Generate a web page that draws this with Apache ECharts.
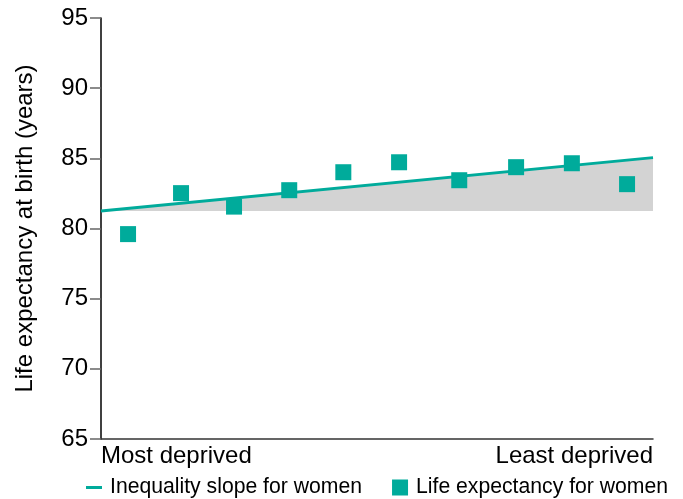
<!DOCTYPE html>
<html>
<head>
<meta charset="utf-8">
<script src="https://cdn.jsdelivr.net/npm/echarts@6/dist/echarts.min.js"></script>
<style>
html,body{margin:0;padding:0;background:#fff;}
#chart{width:683px;height:499px;}
</style>
</head>
<body>
<div id="chart"></div>
<script>
// Data (x = relative deprivation rank, 0 = most deprived, 10 = least deprived)
const rankPositions = [0.49, 1.45, 2.41, 3.41, 4.39, 5.40, 6.49, 7.52, 8.53, 9.53];
const lifeExpectancy = [79.6, 82.52, 81.56, 82.73, 84.01, 84.72, 83.44, 84.37, 84.65, 83.16];
const slopeX = [0, 10];
const slopeY = [81.25, 85.05];
const yTicks = [65, 70, 75, 80, 85, 90, 95];
const xLabels = ['Most deprived', 'Least deprived'];
const seriesNames = ['Inequality slope for women', 'Life expectancy for women'];

const teal = '#00ab9b';
const font = 'Liberation Sans, Arial, Helvetica, sans-serif';

const chart = echarts.init(document.getElementById('chart'), null, {renderer: 'canvas'});

const pointData = rankPositions.map((x, i) => [x, lifeExpectancy[i]]);
const slopeData = slopeX.map((x, i) => [x, slopeY[i]]);

chart.setOption({
  animation: false,
  backgroundColor: '#fff',
  grid: {left: 101, right: 30, top: 18, bottom: 60, containLabel: false},
  legend: {
    top: 472,
    left: 81,
    itemGap: 30,
    itemWidth: 16,
    itemHeight: 16,
    textStyle: {fontFamily: font, fontSize: 21.2, color: '#000', padding: [0, 0, 0, 3]},
    data: [
      {name: seriesNames[0], icon: 'path://M0,7 L16,7 L16,10 L0,10 Z', itemStyle: {color: teal}},
      {name: seriesNames[1], icon: 'rect', itemStyle: {color: teal}}
    ]
  },
  xAxis: {
    type: 'value',
    min: 0,
    max: 10,
    interval: 10,
    axisLine: {show: true, lineStyle: {color: '#333', width: 1.5}},
    axisTick: {show: false},
    splitLine: {show: false},
    axisLabel: {
      show: true,
      fontFamily: font,
      fontSize: 24,
      color: '#000',
      margin: 5,
      alignMinLabel: 'left',
      alignMaxLabel: 'right',
      formatter: v => v === 0 ? xLabels[0] : (v === 10 ? xLabels[1] : '')
    }
  },
  yAxis: {
    type: 'value',
    min: yTicks[0],
    max: yTicks[yTicks.length - 1],
    interval: 5,
    name: 'Life expectancy at birth (years)',
    nameLocation: 'middle',
    nameGap: 64,
    nameTextStyle: {fontFamily: font, fontSize: 24, color: '#000'},
    axisLine: {show: true, lineStyle: {color: '#000', width: 1.5}},
    axisTick: {show: true, length: 11, lineStyle: {color: '#666', width: 1.5}},
    splitLine: {show: false},
    axisLabel: {fontFamily: font, fontSize: 24, color: '#000', margin: 13}
  },
  series: [
    {
      name: 'area',
      type: 'custom',
      silent: true,
      z: 1,
      data: [0],
      renderItem: function (params, api) {
        const pts = [
          api.coord([slopeX[0], slopeY[0]]),
          api.coord([slopeX[1], slopeY[1]]),
          api.coord([slopeX[1], slopeY[0]])
        ];
        return {
          type: 'polygon',
          shape: {points: pts},
          style: {fill: '#d3d3d3'}
        };
      }
    },
    {
      name: seriesNames[0],
      type: 'line',
      data: slopeData,
      symbol: 'none',
      lineStyle: {color: teal, width: 3},
      itemStyle: {color: teal},
      z: 3
    },
    {
      name: seriesNames[1],
      type: 'scatter',
      data: pointData,
      symbol: 'rect',
      symbolSize: 16,
      itemStyle: {color: teal, opacity: 1},
      z: 4
    }
  ]
});
</script>
</body>
</html>
